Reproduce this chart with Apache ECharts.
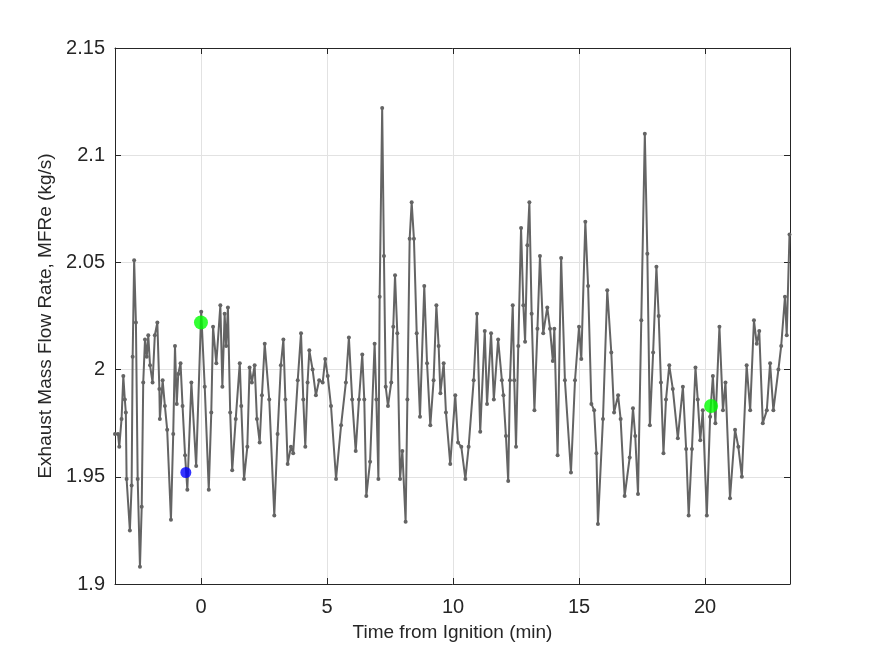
<!DOCTYPE html>
<html>
<head>
<meta charset="utf-8">
<script src="https://cdn.jsdelivr.net/npm/echarts@6/dist/echarts.min.js"></script>
<style>
html, body { margin: 0; padding: 0; background: #fff; }
#chart { width: 875px; height: 656px; }
</style>
</head>
<body>
<div id="chart"></div>
<script>
// time from ignition (min) and exhaust mass flow rate (kg/s)
var timeMin = [
  -3.41, -3.29, -3.24, -3.15, -3.08, -3.02, -2.98, -2.95, -2.82, -2.75,
  -2.71, -2.65, -2.58, -2.51, -2.42, -2.35, -2.29, -2.22, -2.15, -2.09,
  -2.02, -1.92, -1.83, -1.73, -1.65, -1.63, -1.52, -1.43, -1.34, -1.19,
  -1.10, -1.03, -0.96, -0.90, -0.81, -0.73, -0.63, -0.54, -0.38, -0.19,
  0.01, 0.15, 0.31, 0.41, 0.48, 0.61, 0.77, 0.85, 0.94, 1.00,
  1.07, 1.16, 1.24, 1.38, 1.54, 1.60, 1.71, 1.84, 1.93, 2.02,
  2.13, 2.22, 2.33, 2.42, 2.53, 2.71, 2.91, 3.04, 3.17, 3.27,
  3.35, 3.44, 3.57, 3.66, 3.84, 3.97, 4.06, 4.14, 4.23, 4.30,
  4.43, 4.56, 4.69, 4.83, 4.93, 5.03, 5.16, 5.36, 5.56, 5.75,
  5.87, 6.00, 6.14, 6.27, 6.40, 6.48, 6.56, 6.71, 6.89, 6.96,
  7.04, 7.09, 7.19, 7.26, 7.33, 7.42, 7.55, 7.63, 7.70, 7.79,
  7.90, 7.99, 8.12, 8.19, 8.28, 8.36, 8.45, 8.56, 8.69, 8.86,
  8.97, 9.10, 9.23, 9.34, 9.43, 9.50, 9.63, 9.72, 9.89, 10.09,
  10.20, 10.33, 10.49, 10.62, 10.82, 10.95, 11.08, 11.26, 11.35, 11.51,
  11.62, 11.79, 11.94, 12.00, 12.10, 12.19, 12.26, 12.37, 12.43, 12.50,
  12.59, 12.70, 12.79, 12.86, 12.95, 13.03, 13.12, 13.23, 13.35, 13.45,
  13.58, 13.74, 13.85, 13.96, 14.02, 14.15, 14.29, 14.44, 14.68, 14.84,
  15.00, 15.09, 15.25, 15.36, 15.49, 15.60, 15.69, 15.75, 15.95, 16.12,
  16.28, 16.39, 16.55, 16.65, 16.81, 17.01, 17.14, 17.23, 17.34, 17.47,
  17.61, 17.71, 17.81, 17.94, 18.07, 18.16, 18.25, 18.35, 18.45, 18.58,
  18.72, 18.92, 19.12, 19.25, 19.35, 19.48, 19.62, 19.71, 19.81, 19.91,
  20.07, 20.20, 20.31, 20.41, 20.57, 20.71, 20.81, 20.99, 21.19, 21.32,
  21.46, 21.65, 21.79, 21.94, 22.05, 22.15, 22.29, 22.45, 22.58, 22.71,
  22.91, 23.02, 23.17, 23.24, 23.35
];
var flowRate = [
  1.970, 1.970, 1.964, 1.977, 1.997, 1.986, 1.980, 1.949, 1.925, 1.946,
  2.006, 2.051, 2.022, 1.949, 1.908, 1.936, 1.994, 2.014, 2.006, 2.016,
  2.002, 1.994, 2.016, 2.022, 1.991, 1.977, 1.995, 1.983, 1.972, 1.930,
  1.970, 2.011, 1.984, 1.998, 2.003, 1.983, 1.960, 1.944, 1.994, 1.955,
  2.027, 1.992, 1.944, 1.980, 2.020, 2.003, 2.030, 1.992, 2.026, 2.011,
  2.029, 1.980, 1.953, 1.977, 2.003, 1.983, 1.949, 1.964, 2.001, 1.994,
  2.002, 1.977, 1.966, 1.988, 2.012, 1.986, 1.932, 1.970, 2.002, 2.014,
  1.986, 1.956, 1.964, 1.961, 1.995, 2.017, 1.986, 1.964, 1.994, 2.009,
  2.000, 1.988, 1.995, 1.994, 2.005, 1.997, 1.983, 1.949, 1.974, 1.994,
  2.015, 1.986, 1.962, 1.986, 2.007, 1.986, 1.941, 1.957, 2.012, 1.986,
  1.949, 2.034, 2.122, 2.053, 1.992, 1.983, 1.994, 2.020, 2.044, 2.017,
  1.949, 1.962, 1.929, 1.986, 2.061, 2.078, 2.061, 2.017, 1.978, 2.039,
  2.003, 1.974, 1.995, 2.030, 2.011, 1.989, 2.003, 1.980, 1.956, 1.988,
  1.966, 1.964, 1.949, 1.964, 1.995, 2.026, 1.971, 2.018, 1.984, 2.017,
  1.986, 2.014, 1.995, 1.988, 1.969, 1.948, 1.995, 2.030, 1.995, 1.964,
  2.011, 2.066, 2.030, 2.013, 2.058, 2.078, 2.026, 1.981, 2.019, 2.053,
  2.017, 2.029, 2.019, 2.004, 2.019, 1.960, 2.052, 1.995, 1.952, 1.995,
  2.020, 2.005, 2.069, 2.039, 1.984, 1.981, 1.961, 1.928, 1.977, 2.037,
  2.008, 1.980, 1.988, 1.977, 1.941, 1.959, 1.982, 1.969, 1.942, 2.023,
  2.110, 2.054, 1.974, 2.008, 2.048, 2.025, 1.994, 1.961, 1.986, 2.002,
  1.991, 1.968, 1.992, 1.963, 1.932, 1.963, 2.001, 1.986, 1.967, 1.981,
  1.932, 1.978, 1.997, 1.975, 2.020, 1.981, 1.994, 1.940, 1.972, 1.964,
  1.950, 2.002, 1.981, 2.023, 2.012, 2.018, 1.975, 1.981, 2.003, 1.981,
  2.000, 2.011, 2.034, 2.016, 2.063
];
var greenTimes = [0.0, 20.24];
var greenFlow = [2.022, 1.983];
var blueTimes = [-0.60];
var blueFlow = [1.952];

var xMin = -3.41, xMax = 23.37;
var textColor = '#262626';
var fontFam = 'Liberation Sans, Arial, sans-serif';

var lineData = [];
for (var i = 0; i < timeMin.length; i++) {
    lineData.push([timeMin[i], flowRate[i]]);
}
var greenData = greenTimes.map(function (t, i) { return [t, greenFlow[i]]; });
var blueData = blueTimes.map(function (t, i) { return [t, blueFlow[i]]; });

var myChart = echarts.init(document.getElementById('chart'));
var option = {
    animation: false,
    grid: { left: 115, right: 85, top: 48, bottom: 72 },
    xAxis: [
        {
            type: 'value',
            min: xMin,
            max: xMax,
            splitNumber: 5,
            minInterval: 5,
            maxInterval: 5,
            name: 'Time from Ignition (min)',
            nameLocation: 'middle',
            nameGap: 39,
            nameTextStyle: { color: textColor, fontSize: 19, fontFamily: fontFam },
            axisLine: { onZero: false, lineStyle: { color: textColor, width: 1 } },
            axisTick: { inside: true, length: 6, lineStyle: { color: textColor } },
            axisLabel: {
                color: textColor, fontSize: 20, fontFamily: fontFam, margin: 13,
                showMinLabel: false, showMaxLabel: false
            },
            splitLine: { show: true, lineStyle: { color: '#e2e2e2', width: 1 } }
        },
        {
            type: 'value',
            position: 'top',
            min: xMin,
            max: xMax,
            splitNumber: 5,
            minInterval: 5,
            maxInterval: 5,
            axisLine: { onZero: false, lineStyle: { color: textColor, width: 1 } },
            axisTick: { inside: true, length: 6, lineStyle: { color: textColor } },
            axisLabel: { show: false },
            splitLine: { show: false }
        }
    ],
    yAxis: [
        {
            type: 'value',
            min: 1.9,
            max: 2.15,
            interval: 0.05,
            name: 'Exhaust Mass Flow Rate, MFRe (kg/s)',
            nameLocation: 'middle',
            nameGap: 58,
            nameTextStyle: { color: textColor, fontSize: 19, fontFamily: fontFam },
            axisLine: { show: true, onZero: false, lineStyle: { color: textColor, width: 1 } },
            axisTick: { show: true, inside: true, length: 6, lineStyle: { color: textColor } },
            axisLabel: { color: textColor, fontSize: 20, fontFamily: fontFam, margin: 10 },
            splitLine: { show: true, lineStyle: { color: '#e2e2e2', width: 1 } }
        },
        {
            type: 'value',
            position: 'right',
            min: 1.9,
            max: 2.15,
            interval: 0.05,
            axisLine: { show: true, onZero: false, lineStyle: { color: textColor, width: 1 } },
            axisTick: { show: true, inside: true, length: 6, lineStyle: { color: textColor } },
            axisLabel: { show: false },
            splitLine: { show: false }
        }
    ],
    series: [
        {
            name: 'MFRe',
            type: 'line',
            data: lineData,
            showAllSymbol: true,
            symbol: 'circle',
            symbolSize: 4,
            itemStyle: { color: '#646464' },
            lineStyle: { color: '#646464', width: 2 },
            z: 2
        },
        {
            name: 'blue',
            type: 'scatter',
            data: blueData,
            symbolSize: 11,
            itemStyle: { color: '#0000ff' },
            z: 5
        },
        {
            name: 'green',
            type: 'scatter',
            data: greenData,
            symbolSize: 14,
            itemStyle: { color: '#00ff00' },
            z: 5
        }
    ]
};
myChart.setOption(option);
</script>
</body>
</html>
